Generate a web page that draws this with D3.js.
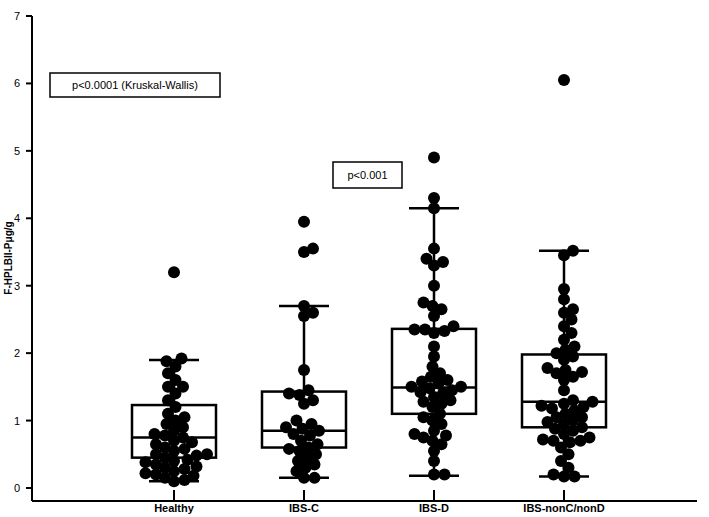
<!DOCTYPE html><html><head><meta charset="utf-8">
<script src="https://cdn.jsdelivr.net/npm/d3@7"></script>
<style>body{margin:0;background:#fff}text{font-family:"Liberation Sans",Arial,sans-serif}</style></head><body>
<svg id="c" width="709" height="517"></svg>
<script>
const categories=["Healthy","IBS-C","IBS-D","IBS-nonC/nonD"];
const yTicks=[0,1,2,3,4,5,6,7];
const healthy=[3.2,1.92,1.88,1.8,1.7,1.6,1.5,1.5,1.4,1.3,1.2,1.1,1.05,1.0,0.95,0.9,0.85,0.8,0.78,0.75,0.7,0.68,0.65,0.6,0.58,0.55,0.5,0.5,0.48,0.45,0.42,0.4,0.38,0.35,0.32,0.3,0.28,0.25,0.22,0.2,0.18,0.15,0.12,0.1];
const ibsC=[3.95,3.55,3.5,2.7,2.6,2.55,1.75,1.45,1.4,1.38,1.3,1.25,1.0,0.95,0.9,0.88,0.85,0.8,0.78,0.7,0.65,0.6,0.58,0.55,0.5,0.45,0.4,0.35,0.3,0.25,0.15,0.15];
const ibsD=[4.9,4.3,4.15,3.55,3.4,3.35,3.3,3.0,2.75,2.7,2.65,2.55,2.4,2.35,2.35,2.33,2.3,2.1,1.95,1.8,1.7,1.65,1.6,1.58,1.55,1.5,1.5,1.48,1.45,1.42,1.4,1.35,1.3,1.28,1.25,1.2,1.1,1.05,1.0,0.95,0.85,0.8,0.78,0.75,0.7,0.65,0.55,0.4,0.2,0.2];
const ibsN=[6.05,3.52,3.45,2.95,2.8,2.65,2.6,2.5,2.4,2.3,2.2,2.1,2.05,2.0,1.95,1.9,1.78,1.75,1.72,1.7,1.65,1.6,1.45,1.3,1.28,1.25,1.22,1.2,1.18,1.15,1.1,1.05,1.05,1.0,0.98,0.95,0.9,0.88,0.85,0.8,0.75,0.72,0.7,0.7,0.68,0.6,0.5,0.4,0.3,0.2,0.17,0.17];
// [whiskerLow, Q1, median, Q3, whiskerHigh]
const boxStats=[[0.1,0.45,0.75,1.23,1.9],[0.15,0.6,0.85,1.43,2.7],[0.18,1.1,1.49,2.36,4.15],[0.17,0.9,1.28,1.98,3.52]];
const series=[healthy,ibsC,ibsD,ibsN];

const svg=d3.select("#c");
const x=d3.scalePoint().domain(categories).range([174,564]);
const y=d3.scaleLinear().domain([-0.193,7]).range([501,16]);
svg.append("line").attr("x1",32).attr("x2",697).attr("y1",501).attr("y2",501).attr("stroke","#000").attr("stroke-width",2);
svg.append("line").attr("x1",32).attr("x2",32).attr("y1",501).attr("y2",16).attr("stroke","#000").attr("stroke-width",2);
yTicks.forEach(t=>{svg.append("line").attr("x1",26).attr("x2",32).attr("y1",y(t)).attr("y2",y(t)).attr("stroke","#000").attr("stroke-width",2);
 svg.append("text").attr("x",20).attr("y",y(t)+4).attr("text-anchor","end").attr("font-size",11).text(t);});
categories.forEach(c=>{svg.append("line").attr("x1",x(c)).attr("x2",x(c)).attr("y1",490).attr("y2",501).attr("stroke","#000").attr("stroke-width",2);
 svg.append("text").attr("x",x(c)).attr("y",512).attr("text-anchor","middle").attr("font-size",11).attr("font-weight","bold").text(c);});
svg.append("text").attr("transform","translate(12,258) rotate(-90)").attr("text-anchor","middle").attr("font-size",10).attr("font-weight","bold").text("F-HPLBII-Pμg/g");
const bw=84,ww=50,r=6;
categories.forEach((c,i)=>{const s=boxStats[i],cx=x(c),g=svg.append("g").attr("stroke","#000").attr("stroke-width",2.5).attr("fill","none");
 g.append("line").attr("x1",cx).attr("x2",cx).attr("y1",y(s[0])).attr("y2",y(s[4]));
 g.append("rect").attr("x",cx-bw/2).attr("y",y(s[3])).attr("width",bw).attr("height",y(s[1])-y(s[3])).attr("fill","#fff");
 g.append("line").attr("x1",cx-bw/2).attr("x2",cx+bw/2).attr("y1",y(s[2])).attr("y2",y(s[2]));
 [s[0],s[4]].forEach(v=>g.append("line").attr("x1",cx-ww/2).attr("x2",cx+ww/2).attr("y1",y(v)).attr("y2",y(v)));
 const placed=[];
 series[i].slice().sort((a,b)=>a-b).forEach(v=>{const py=y(v);let best=null;
  for(let k=0;k<60;k++){const off=(k%2?1:-1)*Math.ceil(k/2)*1.5;const px=cx+off;
   if(placed.every(p=>(p[0]-px)**2+(p[1]-py)**2>=(2*r*0.8)**2)){best=px;break;}}
  if(best===null)best=cx;placed.push([best,py]);});
 svg.append("g").selectAll("circle").data(placed).join("circle").attr("cx",d=>d[0]).attr("cy",d=>d[1]).attr("r",r).attr("fill","#000");
});
function box(x0,y0,w,h,t){svg.append("rect").attr("x",x0).attr("y",y0).attr("width",w).attr("height",h).attr("fill","#fff").attr("stroke","#000").attr("stroke-width",1.5);
 svg.append("text").attr("x",x0+w/2).attr("y",y0+h/2+4).attr("text-anchor","middle").attr("font-size",11).text(t);}
box(50,73,170,24,"p<0.0001 (Kruskal-Wallis)");
box(333,162,69,26,"p<0.001");
</script></body></html>
